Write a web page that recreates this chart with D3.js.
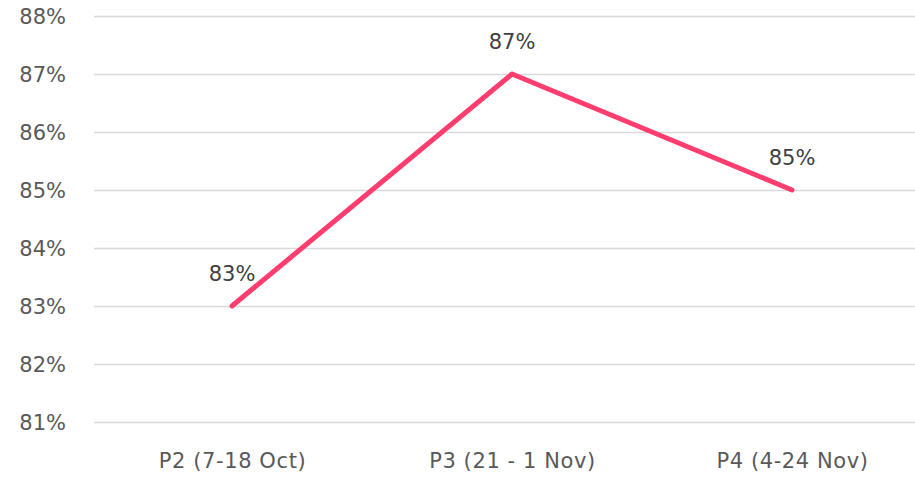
<!DOCTYPE html>
<html><head><meta charset="utf-8">
<script src="https://cdn.jsdelivr.net/npm/d3@7"></script>
<style>body{margin:0;background:#fff}text{font-family:"DejaVu Sans",sans-serif}</style>
</head><body><svg id="c" width="915" height="478"></svg>
<script>
const categories = ["P2 (7-18 Oct)", "P3 (21 - 1 Nov)", "P4 (4-24 Nov)"];
const values = [83, 87, 85];
const dataLabels = ["83%", "87%", "85%"];
const yTicks = [81, 82, 83, 84, 85, 86, 87, 88];
const tickText = ["81%", "82%", "83%", "84%", "85%", "86%", "87%", "88%"];

const svg = d3.select("#c");
const x = d3.scalePoint().domain(categories).range([232, 792]);
const y = d3.scaleLinear().domain([81, 88]).range([422, 16]);

const yAxis = d3.axisLeft(y).tickValues(yTicks).tickSize(-830).tickPadding(28)
  .tickFormat((d, i) => tickText[i]);
const gy = svg.append("g").attr("transform", "translate(94,0)").call(yAxis);
gy.select(".domain").remove();
gy.selectAll(".tick line").attr("stroke", "#d9d9d9").attr("stroke-width", 1.3);
gy.selectAll(".tick text").attr("fill", "#595959").style("font-size", "21px").attr("dy", "0.36em");

const xAxis = d3.axisBottom(x).tickSize(0).tickPadding(31);
const gx = svg.append("g").attr("transform", "translate(0,422)").call(xAxis);
gx.select(".domain").remove();
gx.selectAll(".tick text").attr("fill", "#595959").style("font-size", "21px").style("letter-spacing", "0.6px");

const line = d3.line().x((d, i) => x(categories[i])).y(d => y(d));
svg.append("path").datum(values).attr("d", line).attr("fill", "none")
  .attr("stroke", "#ff3d6e").attr("stroke-width", 5).attr("stroke-linecap", "round").attr("stroke-linejoin", "round");

svg.selectAll(".dl").data(values).enter().append("text")
  .attr("x", (d, i) => x(categories[i])).attr("y", d => y(d) - 25)
  .attr("text-anchor", "middle").attr("fill", "#404040").style("font-size", "21px")
  .text((d, i) => dataLabels[i]);
</script></body></html>
